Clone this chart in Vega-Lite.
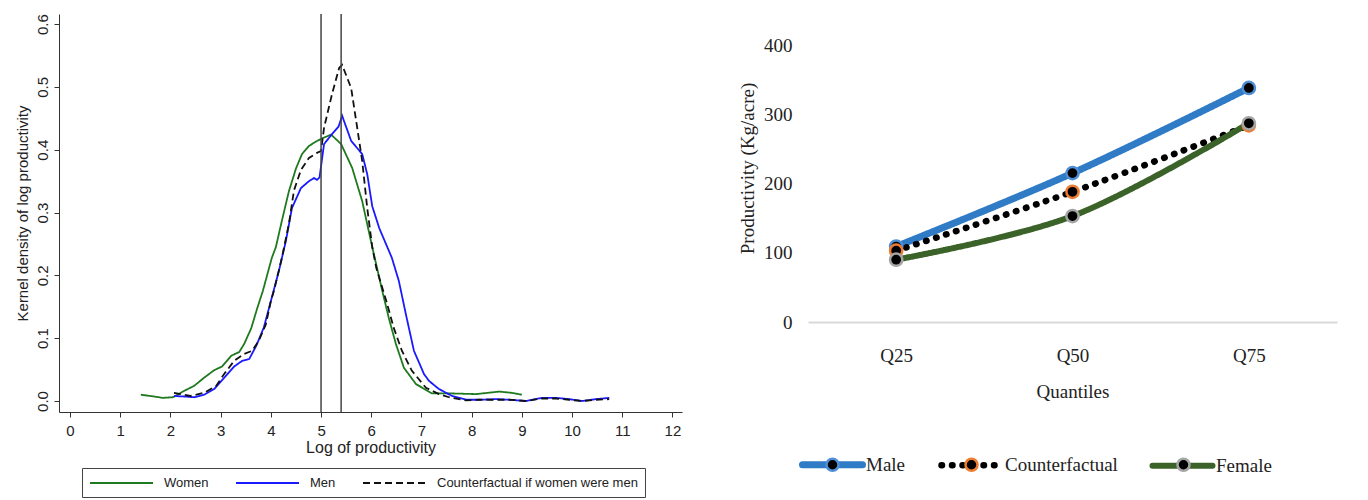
{
  "$schema": "https://vega.github.io/schema/vega-lite/v6.json",
  "padding": {"left": 15, "top": 13, "right": 5, "bottom": 0},
  "background": "white",
  "config": {"view": {"stroke": null}, "font": "Liberation Sans"},
  "datasets": {
    "kd": [
      {"x": 1.41, "y": 0.010, "s": "Women"}, {"x": 1.6, "y": 0.008, "s": "Women"}, {"x": 1.85, "y": 0.005, "s": "Women"}, {"x": 2.05, "y": 0.006, "s": "Women"}, {"x": 2.27, "y": 0.016, "s": "Women"}, {"x": 2.47, "y": 0.024, "s": "Women"}, {"x": 2.67, "y": 0.037, "s": "Women"}, {"x": 2.87, "y": 0.049, "s": "Women"}, {"x": 3.03, "y": 0.055, "s": "Women"}, {"x": 3.21, "y": 0.072, "s": "Women"}, {"x": 3.37, "y": 0.078, "s": "Women"}, {"x": 3.47, "y": 0.091, "s": "Women"}, {"x": 3.61, "y": 0.116, "s": "Women"}, {"x": 3.73, "y": 0.148, "s": "Women"}, {"x": 3.84, "y": 0.175, "s": "Women"}, {"x": 4.02, "y": 0.228, "s": "Women"}, {"x": 4.1, "y": 0.245, "s": "Women"}, {"x": 4.22, "y": 0.287, "s": "Women"}, {"x": 4.36, "y": 0.334, "s": "Women"}, {"x": 4.5, "y": 0.370, "s": "Women"}, {"x": 4.62, "y": 0.393, "s": "Women"}, {"x": 4.76, "y": 0.406, "s": "Women"}, {"x": 4.9, "y": 0.413, "s": "Women"}, {"x": 5.02, "y": 0.418, "s": "Women"}, {"x": 5.2, "y": 0.424, "s": "Women"}, {"x": 5.4, "y": 0.409, "s": "Women"}, {"x": 5.62, "y": 0.371, "s": "Women"}, {"x": 5.82, "y": 0.318, "s": "Women"}, {"x": 6.02, "y": 0.245, "s": "Women"}, {"x": 6.22, "y": 0.175, "s": "Women"}, {"x": 6.35, "y": 0.132, "s": "Women"}, {"x": 6.49, "y": 0.091, "s": "Women"}, {"x": 6.65, "y": 0.053, "s": "Women"}, {"x": 6.89, "y": 0.027, "s": "Women"}, {"x": 7.21, "y": 0.012, "s": "Women"}, {"x": 7.61, "y": 0.012, "s": "Women"}, {"x": 8.09, "y": 0.011, "s": "Women"}, {"x": 8.55, "y": 0.015, "s": "Women"}, {"x": 8.8, "y": 0.013, "s": "Women"}, {"x": 9.0, "y": 0.010, "s": "Women"},
      {"x": 2.07, "y": 0.008, "s": "Men"}, {"x": 2.3, "y": 0.007, "s": "Men"}, {"x": 2.47, "y": 0.006, "s": "Men"}, {"x": 2.67, "y": 0.010, "s": "Men"}, {"x": 2.87, "y": 0.019, "s": "Men"}, {"x": 3.07, "y": 0.037, "s": "Men"}, {"x": 3.27, "y": 0.055, "s": "Men"}, {"x": 3.43, "y": 0.064, "s": "Men"}, {"x": 3.57, "y": 0.067, "s": "Men"}, {"x": 3.71, "y": 0.088, "s": "Men"}, {"x": 3.86, "y": 0.117, "s": "Men"}, {"x": 4.0, "y": 0.159, "s": "Men"}, {"x": 4.16, "y": 0.207, "s": "Men"}, {"x": 4.3, "y": 0.255, "s": "Men"}, {"x": 4.42, "y": 0.307, "s": "Men"}, {"x": 4.6, "y": 0.339, "s": "Men"}, {"x": 4.76, "y": 0.350, "s": "Men"}, {"x": 4.86, "y": 0.355, "s": "Men"}, {"x": 4.92, "y": 0.352, "s": "Men"}, {"x": 4.97, "y": 0.356, "s": "Men"}, {"x": 5.06, "y": 0.409, "s": "Men"}, {"x": 5.22, "y": 0.425, "s": "Men"}, {"x": 5.35, "y": 0.437, "s": "Men"}, {"x": 5.42, "y": 0.454, "s": "Men"}, {"x": 5.6, "y": 0.414, "s": "Men"}, {"x": 5.82, "y": 0.393, "s": "Men"}, {"x": 5.92, "y": 0.361, "s": "Men"}, {"x": 6.02, "y": 0.310, "s": "Men"}, {"x": 6.16, "y": 0.275, "s": "Men"}, {"x": 6.41, "y": 0.228, "s": "Men"}, {"x": 6.55, "y": 0.191, "s": "Men"}, {"x": 6.69, "y": 0.138, "s": "Men"}, {"x": 6.85, "y": 0.080, "s": "Men"}, {"x": 7.05, "y": 0.043, "s": "Men"}, {"x": 7.15, "y": 0.032, "s": "Men"}, {"x": 7.35, "y": 0.019, "s": "Men"}, {"x": 7.61, "y": 0.008, "s": "Men"}, {"x": 7.89, "y": 0.002, "s": "Men"}, {"x": 8.15, "y": 0.002, "s": "Men"}, {"x": 8.49, "y": 0.003, "s": "Men"}, {"x": 8.75, "y": 0.002, "s": "Men"}, {"x": 9.08, "y": 0.000, "s": "Men"}, {"x": 9.4, "y": 0.005, "s": "Men"}, {"x": 9.68, "y": 0.005, "s": "Men"}, {"x": 9.94, "y": 0.003, "s": "Men"}, {"x": 10.2, "y": 0.000, "s": "Men"}, {"x": 10.48, "y": 0.003, "s": "Men"}, {"x": 10.74, "y": 0.005, "s": "Men"},
      {"x": 2.07, "y": 0.013, "s": "Counterfactual if women were men"}, {"x": 2.4, "y": 0.008, "s": "Counterfactual if women were men"}, {"x": 2.67, "y": 0.013, "s": "Counterfactual if women were men"}, {"x": 2.91, "y": 0.024, "s": "Counterfactual if women were men"}, {"x": 3.07, "y": 0.043, "s": "Counterfactual if women were men"}, {"x": 3.27, "y": 0.064, "s": "Counterfactual if women were men"}, {"x": 3.47, "y": 0.075, "s": "Counterfactual if women were men"}, {"x": 3.63, "y": 0.080, "s": "Counterfactual if women were men"}, {"x": 3.76, "y": 0.096, "s": "Counterfactual if women were men"}, {"x": 3.9, "y": 0.122, "s": "Counterfactual if women were men"}, {"x": 4.0, "y": 0.159, "s": "Counterfactual if women were men"}, {"x": 4.06, "y": 0.175, "s": "Counterfactual if women were men"}, {"x": 4.22, "y": 0.228, "s": "Counterfactual if women were men"}, {"x": 4.36, "y": 0.282, "s": "Counterfactual if women were men"}, {"x": 4.46, "y": 0.335, "s": "Counterfactual if women were men"}, {"x": 4.6, "y": 0.368, "s": "Counterfactual if women were men"}, {"x": 4.76, "y": 0.387, "s": "Counterfactual if women were men"}, {"x": 4.92, "y": 0.395, "s": "Counterfactual if women were men"}, {"x": 5.0, "y": 0.398, "s": "Counterfactual if women were men"}, {"x": 5.06, "y": 0.435, "s": "Counterfactual if women were men"}, {"x": 5.22, "y": 0.489, "s": "Counterfactual if women were men"}, {"x": 5.36, "y": 0.530, "s": "Counterfactual if women were men"}, {"x": 5.42, "y": 0.535, "s": "Counterfactual if women were men"}, {"x": 5.6, "y": 0.498, "s": "Counterfactual if women were men"}, {"x": 5.72, "y": 0.435, "s": "Counterfactual if women were men"}, {"x": 5.82, "y": 0.382, "s": "Counterfactual if women were men"}, {"x": 5.92, "y": 0.307, "s": "Counterfactual if women were men"}, {"x": 6.02, "y": 0.245, "s": "Counterfactual if women were men"}, {"x": 6.1, "y": 0.212, "s": "Counterfactual if women were men"}, {"x": 6.3, "y": 0.159, "s": "Counterfactual if women were men"}, {"x": 6.45, "y": 0.116, "s": "Counterfactual if women were men"}, {"x": 6.61, "y": 0.080, "s": "Counterfactual if women were men"}, {"x": 6.81, "y": 0.048, "s": "Counterfactual if women were men"}, {"x": 7.09, "y": 0.021, "s": "Counterfactual if women were men"}, {"x": 7.35, "y": 0.011, "s": "Counterfactual if women were men"}, {"x": 7.55, "y": 0.006, "s": "Counterfactual if women were men"}, {"x": 7.89, "y": 0.001, "s": "Counterfactual if women were men"}, {"x": 8.15, "y": 0.002, "s": "Counterfactual if women were men"}, {"x": 8.49, "y": 0.002, "s": "Counterfactual if women were men"}, {"x": 8.75, "y": 0.002, "s": "Counterfactual if women were men"}, {"x": 9.08, "y": 0.000, "s": "Counterfactual if women were men"}, {"x": 9.4, "y": 0.004, "s": "Counterfactual if women were men"}, {"x": 9.68, "y": 0.004, "s": "Counterfactual if women were men"}, {"x": 9.94, "y": 0.002, "s": "Counterfactual if women were men"}, {"x": 10.2, "y": 0.000, "s": "Counterfactual if women were men"}, {"x": 10.48, "y": 0.002, "s": "Counterfactual if women were men"}, {"x": 10.74, "y": 0.003, "s": "Counterfactual if women were men"}
    ],
    "vlines": [{"v": 5.0}, {"v": 5.4}],
    "q": [
      {"quantile": "Q25", "series": "Male", "value": 109},
      {"quantile": "Q50", "series": "Male", "value": 215},
      {"quantile": "Q75", "series": "Male", "value": 338},
      {"quantile": "Q25", "series": "Counterfactual", "value": 103},
      {"quantile": "Q50", "series": "Counterfactual", "value": 188},
      {"quantile": "Q75", "series": "Counterfactual", "value": 284},
      {"quantile": "Q25", "series": "Female", "value": 90},
      {"quantile": "Q50", "series": "Female", "value": 153},
      {"quantile": "Q75", "series": "Female", "value": 287}
    ]
  },
  "hconcat": [
    {
      "width": 623,
      "height": 398,
      "layer": [
        {
          "data": {"name": "kd"},
          "mark": {"type": "line", "strokeWidth": 1.8},
          "encoding": {
            "x": {
              "field": "x", "type": "quantitative",
              "scale": {"domain": [-0.22, 12.19], "nice": false, "zero": false},
              "axis": {
                "values": [0, 1, 2, 3, 4, 5, 6, 7, 8, 9, 10, 11, 12],
                "grid": false, "tickSize": 5, "tickColor": "#333", "domainColor": "#333",
                "labelFontSize": 15, "labelColor": "#222", "labelPadding": 6,
                "title": "Log of productivity", "titleFontSize": 16, "titleFontWeight": "normal",
                "titleColor": "#222", "titlePadding": 1
              }
            },
            "y": {
              "field": "y", "type": "quantitative",
              "scale": {"domain": [-0.0175, 0.616], "nice": false, "zero": false},
              "axis": {
                "values": [0, 0.1, 0.2, 0.3, 0.4, 0.5, 0.6], "format": ".1f",
                "grid": false, "tickSize": 5, "tickColor": "#333", "domainColor": "#333",
                "labelFontSize": 15, "labelColor": "#222", "labelAngle": -90, "labelPadding": 4,
                "title": "Kernel density of log productivity", "titleFontSize": 15, "titleFontWeight": "normal",
                "titleColor": "#222", "titlePadding": 5
              }
            },
            "color": {
              "field": "s", "type": "nominal",
              "scale": {"domain": ["Women", "Men", "Counterfactual if women were men"], "range": ["#1f7a1f", "#1a1aff", "#111111"]},
              "legend": {
                "orient": "none", "legendX": 23, "legendY": 454, "direction": "horizontal",
                "title": null, "symbolType": "M-1,0H8", "symbolSize": 196, "symbolStrokeWidth": 2,
                "labelFontSize": 13, "labelColor": "#222", "labelOffset": 59, "columnPadding": 23, "labelLimit": 400,
                "strokeColor": "#444", "padding": 7, "fillColor": "white"
              }
            },
            "strokeDash": {
              "field": "s", "type": "nominal",
              "scale": {"domain": ["Women", "Men", "Counterfactual if women were men"], "range": [[1, 0], [1, 0], [7, 4]]},
              "legend": {
                "orient": "none", "legendX": 23, "legendY": 454, "direction": "horizontal",
                "title": null, "symbolType": "M-1,0H8", "symbolSize": 196, "symbolStrokeWidth": 2,
                "labelFontSize": 13, "labelColor": "#222", "labelOffset": 59, "columnPadding": 23, "labelLimit": 400,
                "strokeColor": "#444", "padding": 7, "fillColor": "white"
              }
            }
          }
        },
        {
          "data": {"name": "vlines"},
          "mark": {"type": "rule", "color": "#444", "strokeWidth": 1.5},
          "encoding": {"x": {"field": "v", "type": "quantitative"}}
        }
      ]
    },
    {
      "width": 529,
      "height": 308,
      "data": {"name": "q"},
      "layer": [
        {
          "mark": {"type": "line", "interpolate": "catmull-rom", "strokeCap": "round"},
          "encoding": {
            "x": {
              "field": "quantile", "type": "ordinal",
              "axis": {
                "labelAngle": 0, "ticks": false, "domainColor": "#d9d9d9", "domainWidth": 2,
                "labelFont": "Liberation Serif", "labelFontSize": 19, "labelColor": "#222", "labelPadding": 24,
                "title": "Quantiles", "titleFont": "Liberation Serif", "titleFontSize": 19,
                "titleFontWeight": "normal", "titleColor": "#222", "titlePadding": 17
              }
            },
            "y": {
              "field": "value", "type": "quantitative",
              "scale": {"domain": [0, 444.8], "nice": false},
              "axis": {
                "values": [0, 50, 100, 150, 200, 250, 300, 350, 400],
                "grid": false, "ticks": false, "domain": false,
                "labelFont": "Liberation Serif", "labelFontSize": 19, "labelColor": "#222", "labelPadding": 16,
                "title": "Productivity (Kg/acre)", "titleFont": "Liberation Serif", "titleFontSize": 19,
                "titleFontWeight": "normal", "titleColor": "#222", "titlePadding": 6
              }
            },
            "color": {
              "field": "series", "type": "nominal",
              "scale": {"domain": ["Male", "Counterfactual", "Female"], "range": ["#2f7bc6", "#000000", "#3b6329"]},
              "legend": {
                "orient": "none", "legendX": -9, "legendY": 441, "direction": "horizontal", "padding": 0,
                "title": null, "symbolType": "M-1,0H9", "symbolSize": 144, "symbolStrokeWidth": 6,
                "labelFont": "Liberation Serif", "labelFontSize": 19, "labelColor": "#222",
                "labelOffset": 48, "columnPadding": 22,
                "encode": {"symbols": {"update": {"strokeCap": {"value": "round"}}}}
              }
            },
            "strokeDash": {
              "field": "series", "type": "nominal",
              "scale": {"domain": ["Male", "Counterfactual", "Female"], "range": [[1, 0], [0.5, 10], [1, 0]]},
              "legend": {
                "orient": "none", "legendX": -9, "legendY": 441, "direction": "horizontal", "padding": 0,
                "title": null, "symbolType": "M-1,0H9", "symbolSize": 144, "symbolStrokeWidth": 6,
                "labelFont": "Liberation Serif", "labelFontSize": 19, "labelColor": "#222",
                "labelOffset": 48, "columnPadding": 22,
                "encode": {"symbols": {"update": {"strokeCap": {"value": "round"}}}}
              }
            },
            "strokeWidth": {
              "field": "series", "type": "nominal",
              "scale": {"domain": ["Male", "Counterfactual", "Female"], "range": [7, 6, 7]},
              "legend": null
            }
          }
        },
        {
          "mark": {"type": "circle", "fill": "#000000", "strokeWidth": 2.5, "size": 150, "opacity": 1},
          "encoding": {
            "x": {"field": "quantile", "type": "ordinal"},
            "y": {"field": "value", "type": "quantitative"},
            "stroke": {
              "field": "series", "type": "nominal",
              "sort": ["Male", "Counterfactual", "Female"],
              "scale": {"range": ["#4f8fd6", "#ed7d31", "#a5a5a5"]},
              "legend": {
                "orient": "none", "legendX": -9, "legendY": 441, "direction": "horizontal", "padding": 0,
                "title": null, "symbolType": "M-1.29,0h0.001M9.29,0h0.001M3,0A1,1,0,1,1,5,0A1,1,0,1,1,3,0Z",
                "symbolSize": 144, "symbolStrokeWidth": 2.5, "symbolFillColor": "#000000", "symbolOpacity": 1,
                "labelFont": "Liberation Serif", "labelFontSize": 19, "labelColor": "transparent",
                "labelOffset": 48, "columnPadding": 28
              }
            }
          }
        }
      ]
    }
  ],
  "spacing": 126,
  "bounds": "flush",
  "resolve": {"scale": {"color": "independent", "strokeDash": "independent", "stroke": "independent", "strokeWidth": "independent"}, "legend": {"color": "independent", "strokeDash": "independent", "stroke": "independent"}}
}
